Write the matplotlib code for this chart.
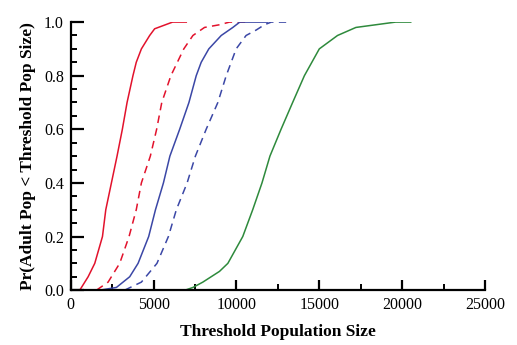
import matplotlib
matplotlib.use('Agg')
import matplotlib.pyplot as plt
from matplotlib.ticker import MultipleLocator

# cumulative probability levels, with the population size at each level
red_solid_x = [370, 540, 1045, 1445, 1910, 2110, 2450, 2790, 3110, 3395, 3750, 3950, 4260, 4760, 5060, 6145, 6970]
red_solid_y = [0.0, 0.0, 0.05, 0.1, 0.2, 0.3, 0.4, 0.5, 0.6, 0.7, 0.8, 0.85, 0.9, 0.95, 0.975, 1.0, 1.0]

red_dash_x = [1550, 2250, 2950, 3515, 3950, 4260, 4800, 5180, 5490, 6040, 6820, 7370, 8070, 8975, 9580, 10780]
red_dash_y = [0.0, 0.03, 0.1, 0.2, 0.3, 0.4, 0.5, 0.6, 0.7, 0.8, 0.9, 0.95, 0.98, 0.99, 1.0, 1.0]

blue_solid_x = [1750, 2750, 3555, 4060, 4700, 5110, 5590, 5980, 6570, 7130, 7570, 7870, 8330, 9080, 9780, 10200, 11870]
blue_solid_y = [0.0, 0.01, 0.05, 0.1, 0.2, 0.3, 0.4, 0.5, 0.6, 0.7, 0.8, 0.85, 0.9, 0.95, 0.98, 1.0, 1.0]

blue_dash_x = [3250, 4260, 5200, 5890, 6370, 7020, 7520, 8170, 8875, 9380, 9680, 9980, 10580, 11180, 11690, 12100, 13000]
blue_dash_y = [0.0, 0.03, 0.1, 0.2, 0.3, 0.4, 0.5, 0.6, 0.7, 0.8, 0.85, 0.9, 0.95, 0.97, 0.99, 1.0, 1.0]

green_x = [5400, 6900, 7370, 7970, 8975, 9480, 10380, 10980, 11540, 12020, 12690, 13390, 14100, 15000, 16100, 17210, 18410, 19610, 20520]
green_y = [0.0, 0.0, 0.01, 0.03, 0.07, 0.1, 0.2, 0.3, 0.4, 0.5, 0.6, 0.7, 0.8, 0.9, 0.95, 0.98, 0.99, 1.0, 1.0]

red = '#e2122c'
blue = '#3b47a6'
green = '#2e8a3c'

plt.rcParams['font.family'] = 'Liberation Serif'

fig = plt.figure(figsize=(5.17, 3.45), dpi=100)
ax = fig.add_axes([0.137, 0.159, 0.801, 0.777])

ax.plot(red_solid_x, red_solid_y, color=red, lw=1.1)
ax.plot(red_dash_x, red_dash_y, color=red, lw=1.1, dashes=(5, 3.5))
ax.plot(blue_solid_x, blue_solid_y, color=blue, lw=1.1)
ax.plot(blue_dash_x, blue_dash_y, color=blue, lw=1.1, dashes=(5, 3.5))
ax.plot(green_x, green_y, color=green, lw=1.1)

ax.set_xlim(0, 25000)
ax.set_ylim(0, 1.0)
ax.xaxis.set_major_locator(MultipleLocator(5000))
ax.xaxis.set_minor_locator(MultipleLocator(2500))
ax.yaxis.set_major_locator(MultipleLocator(0.2))
ax.yaxis.set_minor_locator(MultipleLocator(0.05))
ax.yaxis.set_major_formatter(plt.FormatStrFormatter('%.1f'))

for side in ['top', 'right']:
    ax.spines[side].set_visible(False)
for side in ['left', 'bottom']:
    ax.spines[side].set_linewidth(1.6)

ax.tick_params(which='major', direction='in', width=1.6, labelsize=11.5)
ax.tick_params(axis='y', which='major', length=9, pad=5)
ax.tick_params(axis='x', which='major', length=7, pad=5)
ax.tick_params(which='minor', direction='in', width=1.4, length=4.5)

ax.set_xlabel('Threshold Population Size', fontsize=12.5, fontweight='bold', labelpad=8)
ax.set_ylabel('Pr(Adult Pop < Threshold Pop Size)', fontsize=12.5, fontweight='bold', labelpad=6)

plt.savefig('out.png', dpi=100)
